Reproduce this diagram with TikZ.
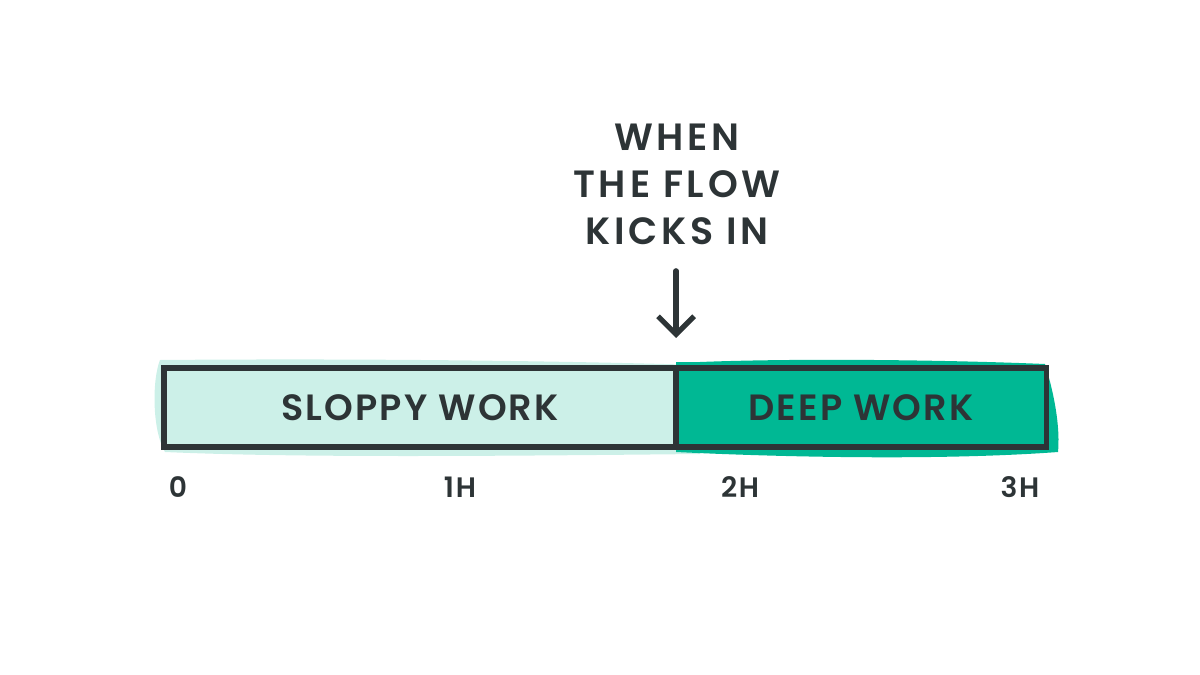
\documentclass[tikz,border=0pt]{standalone}
\usepackage{fontspec}
\setmainfont{Poppins}
\newfontfamily\hand[LetterSpace=6]{Poppins SemiBold}
\newfontfamily\handwide[LetterSpace=10]{Poppins SemiBold}
\usepackage{tikz}
\usetikzlibrary{positioning,arrows.meta,calc}
\definecolor{ink}{HTML}{2D3436}
\definecolor{mint}{HTML}{CCF0E8}
\definecolor{jade}{HTML}{00B894}
\tikzset{
  seg/.style   = {draw=ink, line width=1.3mm, rectangle, inner sep=0pt,
                  outer sep=0pt, minimum height=1.975cm, text=ink,
                  font=\hand\fontsize{26}{30}\selectfont},
  sloppy/.style = {seg, fill=mint, minimum width=12.8cm},
  deep/.style  = {seg, fill=jade, minimum width=9.25cm},
  title/.style = {align=center, text=ink, inner sep=0pt,
                  font=\handwide\fontsize{27}{33.5}\selectfont},
  tick/.style  = {text=ink, inner sep=0pt, font=\hand\fontsize{20}{24}\selectfont},
  flowarrow/.style = {-{Straight Barb[length=4.5mm,width=9mm]}, draw=ink,
                  line width=1.3mm, line cap=round}
}
\begin{document}
\begin{tikzpicture}[x=0.025cm,y=-0.025cm]
  \useasboundingbox (0,0) rectangle (1200,675);
  % soft blobs behind the bar
  \fill[mint] (160,360) .. controls (400,358) and (600,362) .. (700,365)
     -- (700,454) .. controls (500,456) and (300,458) .. (165,452)
     .. controls (152,430) and (152,380) .. cycle;
  \fill[jade] (700,362) .. controls (800,358) and (950,360) .. (1045,364)
     .. controls (1056,400) and (1060,430) .. (1058,452)
     .. controls (950,460) and (800,458) .. (676,452) -- (676,362) -- cycle;
  % the bar
  \node[sloppy] (sloppy) at (420,407.5) {SLOPPY WORK};
  \node[deep, right=0pt of sloppy] (deepw) {DEEP WORK};
  % annotation
  \node[title] (flow) at (677,184) {WHEN\\THE FLOW\\KICKS IN};
  \coordinate (kick) at (sloppy.north east);
  \draw[flowarrow, shorten <=0.65cm, shorten >=0.75cm] (flow.south -| kick) -- (kick);
  % time axis
  \foreach \x/\lbl [count=\i] in {178/0, 460/1H, 740/2H, 1020/3H}
    \node[tick] (tick\i) at (\x,487) {\lbl};
\end{tikzpicture}
\end{document}
